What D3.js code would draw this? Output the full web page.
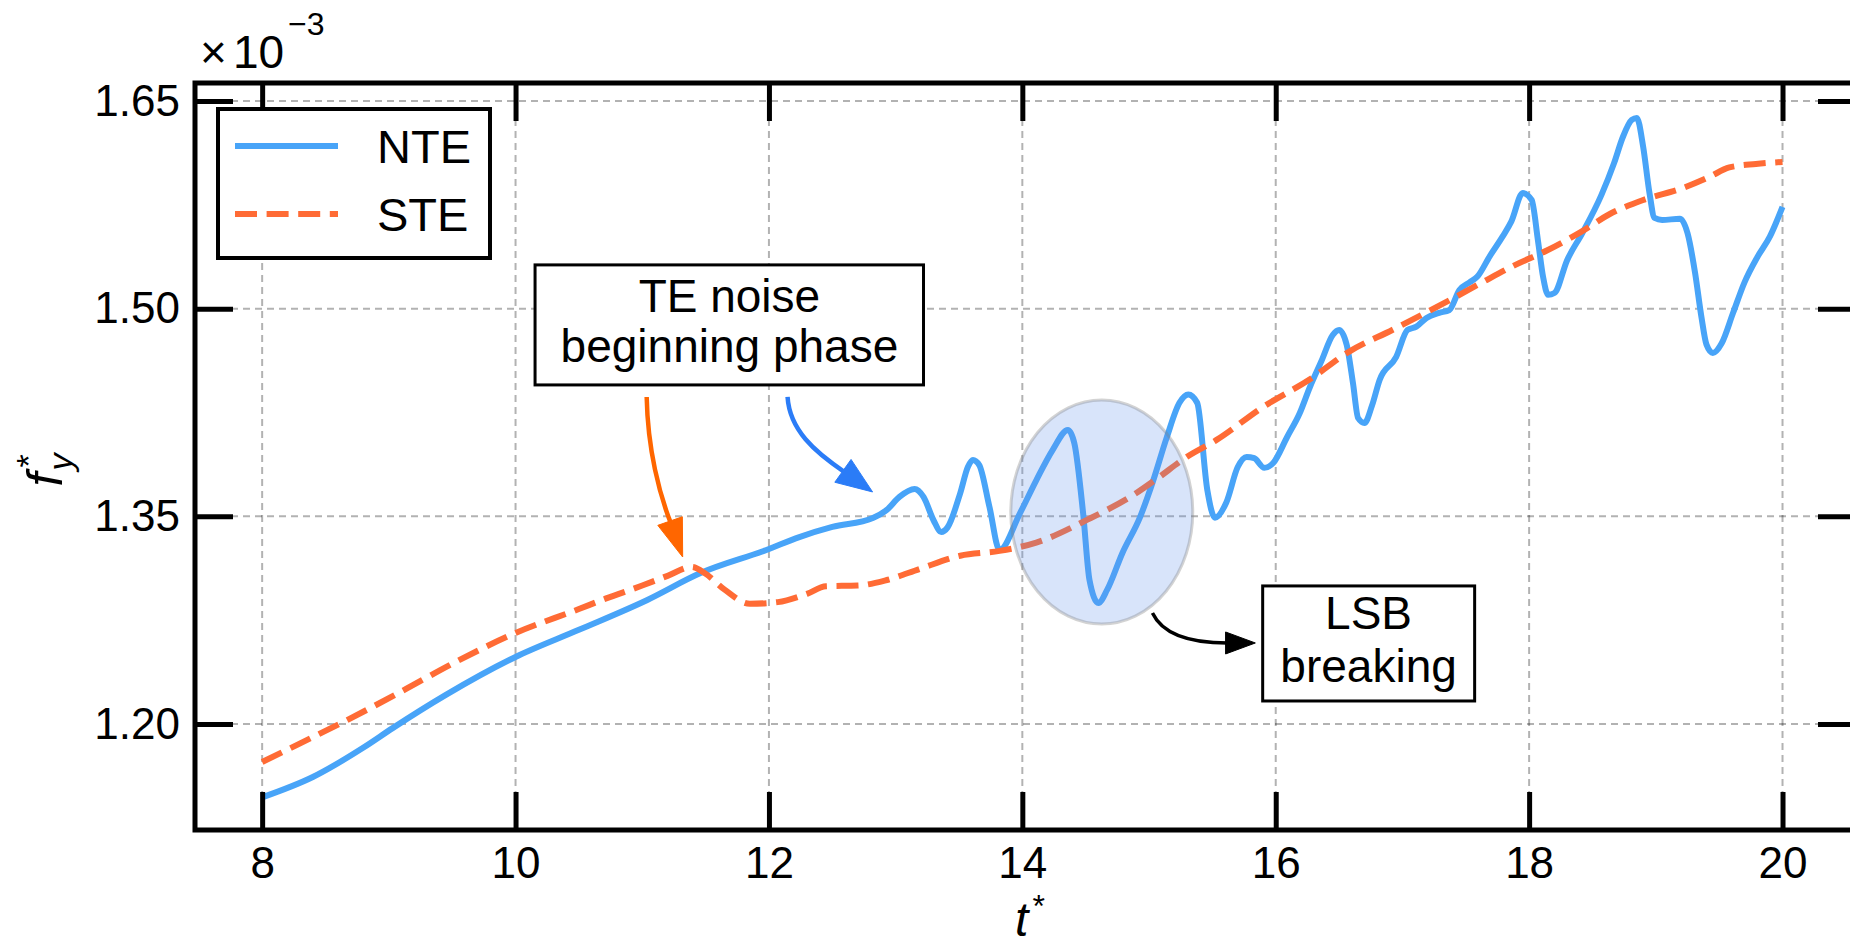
<!DOCTYPE html>
<html><head><meta charset="utf-8">
<script src="https://cdn.jsdelivr.net/npm/d3@7/dist/d3.min.js"></script>
<style>
body{margin:0;background:#fff}
svg{display:block}
text{font-family:"Liberation Sans",Arial,Helvetica,sans-serif;fill:#000}
</style>
</head><body>
<svg id="c" width="1850" height="945"></svg>
<script>
// ---- data ----
const seriesNames = ["NTE", "STE"];
const tNTE = [8.00,8.40,8.80,9.03,9.45,10.00,10.50,11.04,11.46,11.98,12.24,12.50,12.82,12.93,13.03,13.15,13.22,13.30,13.36,13.41,13.51,13.57,13.61,13.66,13.74,13.82,13.98,14.11,14.24,14.36,14.41,14.48,14.53,14.60,14.67,14.79,14.93,15.03,15.14,15.24,15.31,15.38,15.46,15.52,15.61,15.70,15.77,15.83,15.91,15.98,16.09,16.19,16.27,16.36,16.45,16.50,16.56,16.61,16.65,16.70,16.76,16.82,16.95,17.04,17.11,17.19,17.29,17.37,17.45,17.53,17.59,17.69,17.79,17.86,17.95,18.02,18.07,18.11,18.15,18.20,18.30,18.42,18.57,18.67,18.74,18.81,18.85,18.90,18.95,18.99,19.05,19.19,19.25,19.31,19.36,19.40,19.45,19.52,19.61,19.70,19.80,19.90,20.00];
const fyNTE = [1.147,1.1617,1.183,1.197,1.221,1.2484,1.268,1.2896,1.309,1.3257,1.335,1.3423,1.3488,1.3546,1.364,1.3697,1.364,1.347,1.3387,1.342,1.3668,1.3856,1.3907,1.387,1.357,1.3257,1.352,1.376,1.398,1.4124,1.403,1.352,1.304,1.2874,1.297,1.3235,1.3496,1.375,1.407,1.432,1.438,1.432,1.369,1.349,1.360,1.3856,1.3929,1.392,1.385,1.3885,1.4073,1.4246,1.4434,1.462,1.481,1.4846,1.474,1.446,1.421,1.4174,1.430,1.4485,1.465,1.4846,1.487,1.4933,1.497,1.499,1.5135,1.519,1.523,1.538,1.552,1.563,1.5835,1.5785,1.549,1.523,1.510,1.5113,1.535,1.5546,1.582,1.605,1.624,1.6363,1.6377,1.617,1.5835,1.5655,1.564,1.565,1.5546,1.5258,1.494,1.474,1.468,1.475,1.497,1.519,1.537,1.552,1.5735];
const tSTE = [8.00,8.30,8.61,9.10,9.50,10.00,10.50,10.71,11.00,11.20,11.39,11.50,11.65,11.85,12.07,12.30,12.45,12.70,12.93,13.19,13.51,13.82,14.11,14.51,14.90,15.06,15.30,15.53,15.90,16.27,16.58,16.92,17.37,17.63,17.90,18.14,18.42,18.63,18.90,19.21,19.42,19.58,19.79,20.00];
const fySTE = [1.1725,1.186,1.200,1.2235,1.2435,1.2657,1.283,1.2905,1.300,1.307,1.3134,1.3085,1.297,1.2868,1.288,1.294,1.2995,1.300,1.304,1.312,1.3215,1.325,1.331,1.3474,1.3668,1.377,1.393,1.405,1.429,1.449,1.469,1.4846,1.506,1.519,1.532,1.542,1.556,1.568,1.5785,1.587,1.595,1.602,1.6045,1.606];
const xTicks = [8,10,12,14,16,18,20];
const xTickLabels = ["8","10","12","14","16","18","20"];
const yTicks = [1.20,1.35,1.50,1.65];
const yTickLabels = ["1.20","1.35","1.50","1.65"];
const noteNoise = ["TE noise", "beginning phase"];
const noteLSB = ["LSB", "breaking"];

// ---- layout ----
const svg = d3.select("#c");
const L = 195, R = 1856, T = 83, B = 830;
const x = d3.scaleLinear().domain([7.47, 20.58]).range([L, R]);
const y = d3.scaleLinear().domain([1.1234, 1.663]).range([B, T]);
const blue = "#48a4f8", orange = "#ff6b35";
const FONT = 46;

// grid
const grid = svg.append("g");
grid.selectAll("line.gx").data(xTicks).join("line")
  .attr("x1", d => x(d)).attr("x2", d => x(d)).attr("y1", T).attr("y2", B);
grid.selectAll("line.gy").data(yTicks).join("line")
  .attr("x1", L).attr("x2", R).attr("y1", d => y(d)).attr("y2", d => y(d));
grid.selectAll("line").attr("stroke", "#000").attr("stroke-opacity", 0.3)
  .attr("stroke-width", 2).attr("stroke-dasharray", "7,5");

// series
const nte = tNTE.map((t, i) => [t, fyNTE[i]]);
const ste = tSTE.map((t, i) => [t, fySTE[i]]);
const line = d3.line().x(d => x(d[0])).y(d => y(d[1])).curve(d3.curveMonotoneX);
svg.append("path").attr("d", line(nte)).attr("fill", "none")
  .attr("stroke", blue).attr("stroke-width", 6).attr("stroke-linejoin", "round");
svg.append("path").attr("d", line(ste)).attr("fill", "none")
  .attr("stroke", orange).attr("stroke-width", 6).attr("stroke-dasharray", "22,9.6");

// ellipse highlight (data coords)
const eC = [14.627, 1.3531], eRt = 0.718, eRv = 0.0809;
svg.append("ellipse")
  .attr("cx", x(eC[0])).attr("cy", y(eC[1]))
  .attr("rx", x(eC[0] + eRt) - x(eC[0])).attr("ry", y(eC[1] - eRv) - y(eC[1]))
  .attr("fill", "rgb(100,149,237)").attr("fill-opacity", 0.25)
  .attr("stroke", "#808080").attr("stroke-opacity", 0.35).attr("stroke-width", 3);

// axes
function styleAxis(g) {
  g.select(".domain").remove();
  g.selectAll(".tick line").attr("stroke", "#000").attr("stroke-width", 5);
  g.selectAll(".tick text").attr("font-size", 44).attr("fill", "#000")
    .attr("font-family", '"Liberation Sans",Arial,sans-serif');
}
svg.append("g").attr("transform", `translate(0,${B})`)
  .call(d3.axisBottom(x).tickValues(xTicks).tickFormat((d, i) => xTickLabels[i])
    .tickSizeInner(-38).tickSizeOuter(0).tickPadding(17)).call(styleAxis);
svg.append("g").attr("transform", `translate(0,${T})`)
  .call(d3.axisTop(x).tickValues(xTicks).tickFormat("")
    .tickSizeInner(-38).tickSizeOuter(0)).call(styleAxis);
svg.append("g").attr("transform", `translate(${L},0)`)
  .call(d3.axisLeft(y).tickValues(yTicks).tickFormat((d, i) => yTickLabels[i])
    .tickSizeInner(-38).tickSizeOuter(0).tickPadding(15)).call(styleAxis);
svg.append("g").attr("transform", `translate(${R},0)`)
  .call(d3.axisRight(y).tickValues(yTicks).tickFormat("")
    .tickSizeInner(-38).tickSizeOuter(0)).call(styleAxis);
svg.append("rect").attr("x", L).attr("y", T).attr("width", R - L).attr("height", B - T)
  .attr("fill", "none").attr("stroke", "#000").attr("stroke-width", 5);

// offset text
const off = svg.append("text").attr("x", 200).attr("y", 68).attr("font-size", FONT);
off.append("tspan").text("×");
off.append("tspan").attr("dx", 6).text("10");
off.append("tspan").attr("font-size", 32).attr("dx", 4).attr("dy", -33).text("−3");

// axis labels
const xl = svg.append("text").attr("x", 1030).attr("y", 936).attr("text-anchor", "middle")
  .attr("font-size", 48);
xl.append("tspan").attr("font-style", "italic").text("t");
xl.append("tspan").attr("font-size", 32).attr("dx", 4).attr("dy", -19).text("*");
const yl = svg.append("text").attr("transform", "translate(62,470) rotate(-90)")
  .attr("text-anchor", "middle").attr("font-size", 50);
yl.append("tspan").attr("font-style", "italic").text("f");
yl.append("tspan").attr("font-style", "italic").attr("font-size", 34).attr("dx", 2).attr("dy", 10).text("y");
yl.append("tspan").attr("font-size", 34).attr("dx", -14).attr("dy", -32).text("*");

// legend
const lg = svg.append("g");
lg.append("rect").attr("x", 218).attr("y", 109).attr("width", 272).attr("height", 149)
  .attr("fill", "#fff").attr("stroke", "#000").attr("stroke-width", 4);
const legY = [146, 214];
lg.selectAll("line.s").data(seriesNames).join("line")
  .attr("x1", 235).attr("x2", 338).attr("y1", (d, i) => legY[i]).attr("y2", (d, i) => legY[i])
  .attr("stroke", (d, i) => i ? orange : blue).attr("stroke-width", 6)
  .attr("stroke-dasharray", (d, i) => i ? "22,9.6" : null);
lg.selectAll("text").data(seriesNames).join("text")
  .attr("x", 377).attr("y", (d, i) => legY[i] + 17).attr("font-size", 47).text(d => d);

// annotation boxes (data coords)
function noteBox(t0, t1, v0, v1, tc, baseV, lines) {
  svg.append("rect").attr("x", x(t0)).attr("y", y(v1))
    .attr("width", x(t1) - x(t0)).attr("height", y(v0) - y(v1))
    .attr("fill", "#fff").attr("stroke", "#000").attr("stroke-width", 3);
  svg.selectAll(null).data(lines).join("text")
    .attr("x", x(tc)).attr("y", (d, i) => y(baseV[i])).attr("text-anchor", "middle")
    .attr("font-size", FONT).text(d => d);
}
noteBox(10.154, 13.22, 1.4449, 1.5316, 11.688, [1.4976, 1.4615], noteNoise);
noteBox(15.897, 17.570, 1.2166, 1.2997, 16.733, [1.2686, 1.2303], noteLSB);

// curved arrows (data coords)
function arrow(pts, tip, color, lw, hw) {
  const P = pts.map(p => [x(p[0]), y(p[1])]);
  const Tp = [x(tip[0]), y(tip[1])];
  const Bp = P[P.length - 1];
  svg.append("path")
    .attr("d", `M${P[0]}C${P[1]} ${P[2]} ${P[3]}`)
    .attr("fill", "none").attr("stroke", color).attr("stroke-width", lw);
  const dx = Tp[0] - Bp[0], dy = Tp[1] - Bp[1], len = Math.hypot(dx, dy);
  const nx = -dy / len * hw / 2, ny = dx / len * hw / 2;
  const bx = Bp[0] - dx / len * 2, by = Bp[1] - dy / len * 2;
  svg.append("path")
    .attr("d", `M${Tp}L${bx + nx},${by + ny}L${bx - nx},${by - ny}Z`)
    .attr("fill", color).attr("stroke", color).attr("stroke-width", 1);
}
arrow([[11.035, 1.4362], [11.043, 1.3979], [11.138, 1.3654], [11.225, 1.3452]], [11.319, 1.3206], "#ff6600", 4.5, 26);
arrow([[12.147, 1.4362], [12.163, 1.4124], [12.360, 1.3965], [12.597, 1.382]], [12.818, 1.3676], "#2b7cf7", 4.5, 28);
arrow([[15.027, 1.2802], [15.098, 1.2665], [15.28, 1.2585], [15.62, 1.2585]], [15.839, 1.2585], "#000", 3.5, 22);
</script>
</body></html>
